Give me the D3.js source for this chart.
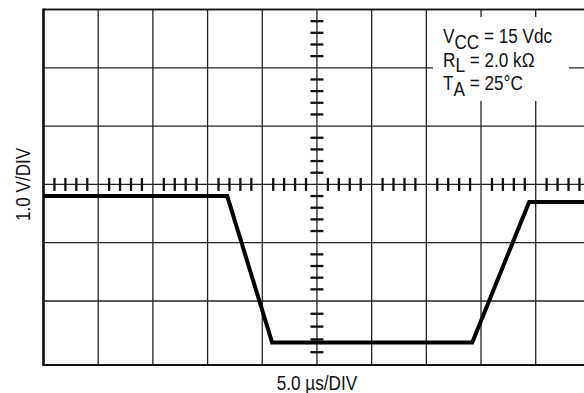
<!DOCTYPE html>
<html>
<head>
<meta charset="utf-8">
<script src="https://cdn.jsdelivr.net/npm/d3@7"></script>
<style>
  body { margin: 0; background: #fff; }
  text { font-family: "Liberation Sans", Arial, sans-serif; font-size: 19.5px; fill: #111; }
</style>
</head>
<body>
<div id="chart"></div>
<script>
// Data
const timeUs = [0, 16.8, 20.9, 39.2, 44.4, 50];
const volts = [-0.2, -0.2, -2.65, -2.65, -0.3, -0.3];
const xDivs = [0, 1, 2, 3, 4, 5, 6, 7, 8, 9, 10];
const yDivs = [-3, -2, -1, 0, 1, 2, 3];
const xLabel = "5.0 \u00B5s/DIV";
const yLabel = "1.0 V/DIV";
const legendLines = [
    ["V", "CC", " = 15 Vdc"],
    ["R", "L", " = 2.0 k\u03A9"],
    ["T", "A", " = 25\u00B0C"]
];

const chartWidth = 584;
const chartHeight = 393;

const data = timeUs.map((t, i) => ({t: t, v: volts[i]}));

// 5 us per division, 1 V per division
const xScale = d3.scaleLinear()
    .domain([0, 50])
    .range([43.5, 590.4]);

const yScale = d3.scaleLinear()
    .domain([-3, -2, 3])
    .range([365, 301, 9.5]);

const svg = d3.select("#chart")
    .append("svg")
    .attr("width", chartWidth)
    .attr("height", chartHeight);

// grid
svg.append("g")
    .selectAll("line")
    .data(xDivs)
    .join("line")
    .attr("x1", d => xScale(d * 5))
    .attr("x2", d => xScale(d * 5))
    .attr("y1", yScale(3))
    .attr("y2", yScale(-3))
    .attr("stroke", "#222")
    .attr("stroke-width", 1.3);

svg.append("g")
    .selectAll("line")
    .data(yDivs)
    .join("line")
    .attr("x1", xScale(0))
    .attr("x2", xScale(50))
    .attr("y1", d => yScale(d))
    .attr("y2", d => yScale(d))
    .attr("stroke", "#222")
    .attr("stroke-width", 1.3);

// minor ticks on the centre lines
const xMinor = d3.range(0, 50.01, 1).filter(d => d % 5 !== 0);
const yMinor = d3.range(-3, 3.01, 0.2).filter(d => Math.abs(d - Math.round(d)) > 0.01);

svg.append("g")
    .selectAll("line")
    .data(xMinor)
    .join("line")
    .attr("x1", d => xScale(d))
    .attr("x2", d => xScale(d))
    .attr("y1", yScale(0) - 6.5)
    .attr("y2", yScale(0) + 6.5)
    .attr("stroke", "#111")
    .attr("stroke-width", 2.3);

svg.append("g")
    .selectAll("line")
    .data(yMinor)
    .join("line")
    .attr("x1", xScale(25) - 6.5)
    .attr("x2", xScale(25) + 6.5)
    .attr("y1", d => yScale(d))
    .attr("y2", d => yScale(d))
    .attr("stroke", "#111")
    .attr("stroke-width", 2.3);

// frame (left, top, bottom)
svg.append("line")
    .attr("x1", xScale(0)).attr("x2", xScale(0))
    .attr("y1", yScale(3) - 1).attr("y2", yScale(-3) + 1)
    .attr("stroke", "#111").attr("stroke-width", 2.6);
svg.append("line")
    .attr("x1", xScale(0)).attr("x2", xScale(50))
    .attr("y1", yScale(-3)).attr("y2", yScale(-3))
    .attr("stroke", "#111").attr("stroke-width", 2.2);
svg.append("line")
    .attr("x1", xScale(0)).attr("x2", xScale(50))
    .attr("y1", yScale(3)).attr("y2", yScale(3))
    .attr("stroke", "#111").attr("stroke-width", 1.6);

// waveform
const line = d3.line()
    .x(d => xScale(d.t))
    .y(d => yScale(d.v));

svg.append("path")
    .datum(data)
    .attr("fill", "none")
    .attr("stroke", "#000")
    .attr("stroke-width", 4)
    .attr("stroke-linejoin", "miter")
    .attr("d", line);

// legend box
svg.append("rect")
    .attr("x", 433)
    .attr("y", 17)
    .attr("width", 136)
    .attr("height", 84)
    .attr("fill", "#fff");

const legend = svg.append("g")
    .attr("transform", "translate(443,0) scale(0.88,1)");

legendLines.forEach((l, i) => {
    const t = legend.append("text")
        .attr("x", 0)
        .attr("y", 43.5 + i * 23.3);
    t.append("tspan").text(l[0]);
    t.append("tspan").attr("dy", 5.5).text(l[1]);
    t.append("tspan").attr("dy", -5.5).text(l[2]);
});

// axis titles
svg.append("text")
    .attr("transform", "translate(" + xScale(25) + ",389.5) scale(0.88,1)")
    .attr("text-anchor", "middle")
    .text(xLabel);

svg.append("text")
    .attr("transform", "translate(30," + yScale(0) + ") rotate(-90) scale(0.88,1)")
    .attr("text-anchor", "middle")
    .text(yLabel);
</script>
</body>
</html>
